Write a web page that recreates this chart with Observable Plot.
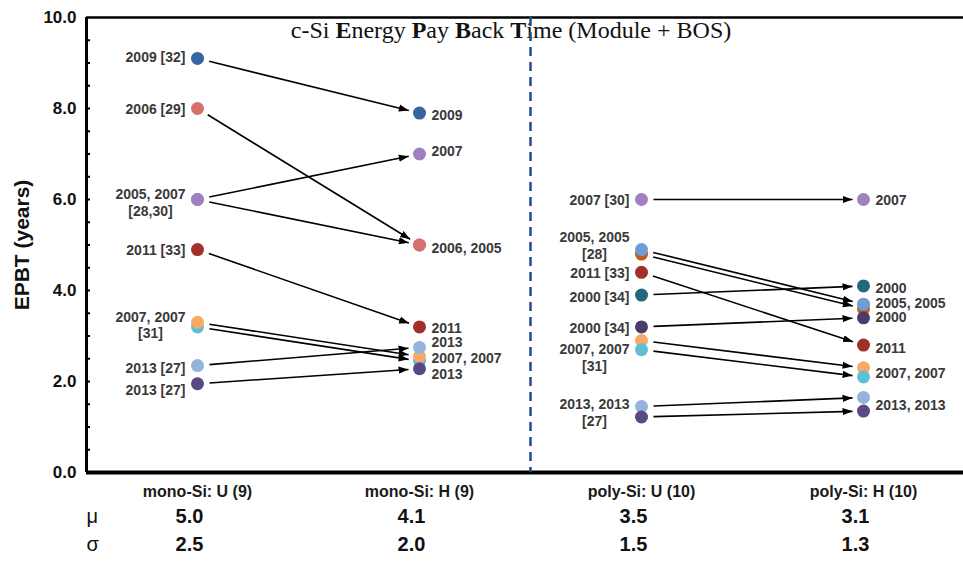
<!DOCTYPE html>
<html>
<head>
<meta charset="utf-8">
<script src="https://cdn.jsdelivr.net/npm/d3@7"></script>
<script src="https://cdn.jsdelivr.net/npm/@observablehq/plot@0.6"></script>
<style>
  body { margin: 0; background: #fff; }
  #chart { width: 963px; height: 562px; }
</style>
</head>
<body>
<div id="chart"></div>
<script>
// ---------- data ----------
const categories = ["mono-Si: U (9)", "mono-Si: H (9)", "poly-Si: U (10)", "poly-Si: H (10)"];
const categoryIndex = [0, 1, 2, 3];
const means = [5.0, 4.1, 3.5, 3.1];
const sds = [2.5, 2.0, 1.5, 1.3];
const yTicks = [0, 2, 4, 6, 8, 10];
const minorTicks = [0.5, 1, 1.5, 2, 2.5, 3, 3.5, 4, 4.5, 5, 5.5, 6, 6.5, 7, 7.5, 8, 8.5, 9, 9.5];

// studies: technology (0 = mono-Si, 1 = poly-Si), year, EPBT U, EPBT H
const studyTech = [0, 0, 0, 0, 0, 0, 0, 0, 0, 1, 1, 1, 1, 1, 1, 1, 1, 1, 1];
const studyYear = ["2009", "2005", "2006", "2007", "2011", "2007", "2007", "2013", "2013",
                   "2007", "2005", "2005", "2011", "2000", "2000", "2007", "2007", "2013", "2013"];
const uValues = [9.1, 6.0, 8.0, 6.0, 4.9, 3.2, 3.3, 2.35, 1.95,
                 6.0, 4.8, 4.9, 4.4, 3.9, 3.2, 2.9, 2.7, 1.45, 1.22];
const hValues = [7.9, 5.0, 5.0, 7.0, 3.2, 2.45, 2.55, 2.75, 2.28,
                 6.0, 3.6, 3.7, 2.8, 4.1, 3.4, 2.3, 2.1, 1.65, 1.35];
const studyColors = ["#36659f", "#a080bf", "#d6706d", "#a080bf", "#a1302d", "#5ebed6", "#f8a968", "#94b4dc", "#5a4785",
                     "#a080bf", "#c35b17", "#6e9cd4", "#a1302d", "#226a7b", "#4a3c6b", "#f8a968", "#5ebed6", "#94b4dc", "#5b4985"];

// annotations: column, anchor value, text
const labelCol = [0, 0, 0, 0, 0, 0, 0, 1, 1, 1, 1, 1, 1, 1, 2, 2, 2, 2, 2, 2, 2, 3, 3, 3, 3, 3, 3, 3];
const labelValue = [9.15, 8.0, 5.95, 4.9, 3.25, 2.31, 1.82,
                    7.87, 7.08, 4.95, 3.19, 2.88, 2.53, 2.18,
                    6.0, 5.0, 4.4, 3.86, 3.19, 2.54, 1.33,
                    6.0, 4.07, 3.74, 3.43, 2.75, 2.2, 1.49];
const labelText = ["2009 [32]", "2006 [29]", "2005, 2007\n[28,30]", "2011 [33]", "2007, 2007\n[31]", "2013 [27]", "2013 [27]",
                   "2009", "2007", "2006, 2005", "2011", "2013", "2007, 2007", "2013",
                   "2007 [30]", "2005, 2005\n[28]", "2011 [33]", "2000 [34]", "2000 [34]", "2007, 2007\n[31]", "2013, 2013\n[27]",
                   "2007", "2000", "2005, 2005", "2000", "2011", "2007, 2007", "2013, 2013"];

// ---------- derived tables ----------
const studies = studyYear.map((year, i) => ({year, tech: studyTech[i], u: uValues[i], h: hValues[i], color: studyColors[i]}));
const points = studies.flatMap(s => [
  {x: s.tech * 2, y: s.u, color: s.color},
  {x: s.tech * 2 + 1, y: s.h, color: s.color}
]);
const labels = labelText.map((text, i) => ({x: labelCol[i], y: labelValue[i], text}));

// ---------- layout ----------
const W = 963, H = 562;
const mL = 86, mT = 17, mB = 90;
const xRange = [86, 974];          // domain [-0.5, 3.5]
const yRange = [H - mB, mT];       // domain [0, 10]
const pxPerX = (xRange[1] - xRange[0]) / 4;
const pxPerY = (yRange[0] - yRange[1]) / 10;

// shorten arrows in pixel space
function inset(s, a, b) {
  const x1 = s.tech * 2, x2 = x1 + 1;
  const dxp = (x2 - x1) * pxPerX, dyp = (s.h - s.u) * pxPerY;
  const len = Math.hypot(dxp, dyp);
  const t1 = a / len, t2 = 1 - b / len;
  return {
    x1: x1 + (x2 - x1) * t1, y1: s.u + (s.h - s.u) * t1,
    x2: x1 + (x2 - x1) * t2, y2: s.u + (s.h - s.u) * t2
  };
}
const arrows = studies.map(s => inset(s, 12, 11));

const filledArrow = (color, context) => {
  const m = d3.create("svg:marker")
    .attr("viewBox", "0 -5 10 10")
    .attr("refX", 10).attr("refY", 0)
    .attr("markerUnits", "userSpaceOnUse")
    .attr("markerWidth", 10).attr("markerHeight", 10)
    .attr("orient", "auto")
    .attr("fill", "#000").attr("stroke", "none");
  m.append("path").attr("d", "M0,-3.6L10,0L0,3.6Z");
  return m.node();
};

const labelFont = {fontSize: 14, fontWeight: "bold", fill: "#3a3a3a", lineAnchor: "middle", lineHeight: 1.2};
const leftSingle = labels.filter(d => d.x % 2 === 0 && !d.text.includes("\n"));
const leftMulti = labels.filter(d => d.x % 2 === 0 && d.text.includes("\n"));
const rightLabels = labels.filter(d => d.x % 2 === 1);

const statRows = [
  {symbol: "\u03bc", values: means, dy: 50},
  {symbol: "\u03c3", values: sds, dy: 78}
];

const chart = Plot.plot({
  width: W,
  height: H,
  marginLeft: mL,
  marginRight: 0,
  marginTop: mT,
  marginBottom: mB,
  style: {fontFamily: "'Liberation Sans', Arial, sans-serif", background: "#fff", color: "#111"},
  x: {domain: [-0.5, 3.5], range: xRange, axis: null},
  y: {domain: [0, 10], range: yRange, axis: null},
  marks: [
    // y axis labels
    Plot.axisY({ticks: yTicks, tickFormat: d => d.toFixed(1), tickSize: 0, tickPadding: 10,
                fontSize: 17, fontWeight: "bold", label: null, fill: "#111"}),
    Plot.text(["EPBT (years)"], {frameAnchor: "left", textAnchor: "middle", dx: -64, rotate: -90,
                                 fontSize: 21, fontWeight: "bold", fill: "#111"}),
    // x axis labels
    Plot.axisX({ticks: categoryIndex, tickFormat: i => categories[i], tickSize: 0, tickPadding: 13,
                fontSize: 16, fontWeight: "bold", label: null, fill: "#1a1a1a"}),
    // stats rows
    ...statRows.flatMap(r => [
      Plot.text([r.symbol], {x: -0.5, frameAnchor: "bottom", dy: r.dy, textAnchor: "start", dx: 0, fontSize: 20, fill: "#111"}),
      Plot.text(categoryIndex, {x: d => d, text: d => r.values[d].toFixed(1), frameAnchor: "bottom", dy: r.dy, dx: -8,
                                fontSize: 20, fontWeight: "bold", fill: "#111"})
    ]),
    // minor ticks on the inside of the y axis
    Plot.ruleY(minorTicks, {x1: -0.5, x2: -0.5 + 4 / pxPerX, stroke: "#000", strokeWidth: 2}),
    // frame lines
    Plot.ruleY([10], {stroke: "#000", strokeWidth: 2.5}),
    Plot.ruleY([0], {stroke: "#000", strokeWidth: 4}),
    Plot.ruleX([-0.5], {stroke: "#000", strokeWidth: 3}),
    // arrows
    Plot.link(arrows, {x1: "x1", y1: "y1", x2: "x2", y2: "y2", stroke: "#000", strokeWidth: 1.6, markerEnd: filledArrow}),
    // dots
    Plot.dot(points, {x: "x", y: "y", fill: "color", r: 6.5, stroke: "none"}),
    // annotations
    Plot.text(leftSingle, {x: "x", y: "y", text: "text", textAnchor: "end", dx: -12, ...labelFont}),
    Plot.text(leftMulti, {x: "x", y: "y", text: "text", textAnchor: "middle", dx: -47, ...labelFont}),
    Plot.text(rightLabels, {x: "x", y: "y", text: "text", textAnchor: "start", dx: 12, ...labelFont}),
    // divider between mono and poly
    Plot.ruleX([1.5], {stroke: "#1f4e8c", strokeWidth: 2.5, strokeDasharray: "9,6"})
  ]
});

// title with bold initials, drawn beneath the divider
const svg = d3.select(chart);
const title = svg.insert("text", "g")
  .attr("x", 511).attr("y", 38)
  .attr("text-anchor", "middle")
  .attr("font-family", "'Liberation Serif', 'Times New Roman', serif")
  .attr("font-size", 24)
  .attr("fill", "#111");
const parts = [["c-Si ", false], ["E", true], ["nergy ", false], ["P", true], ["ay ", false],
               ["B", true], ["ack ", false], ["T", true], ["ime (Module + BOS)", false]];
parts.forEach(([t, b]) => title.append("tspan").attr("font-weight", b ? "bold" : "normal").text(t));

document.getElementById("chart").appendChild(chart);
</script>
</body>
</html>
